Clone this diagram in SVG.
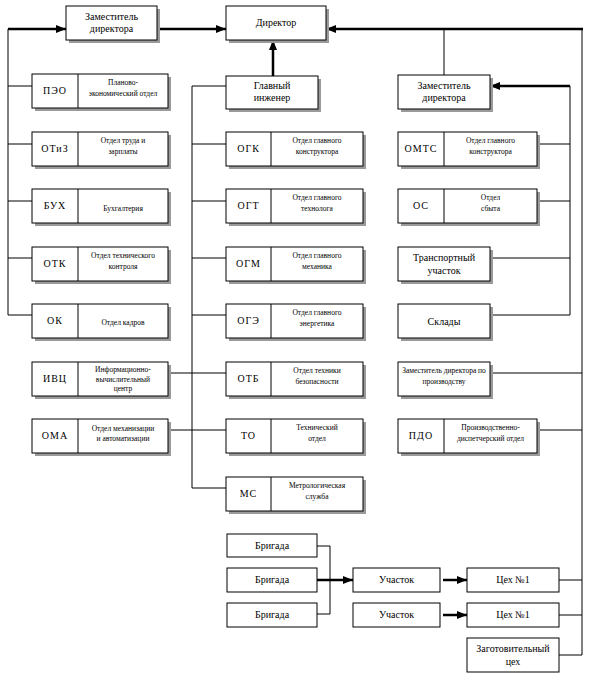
<svg xmlns="http://www.w3.org/2000/svg" width="590" height="678" viewBox="0 0 590 678" font-family="'Liberation Serif', 'Times New Roman', serif">
<style>
.bg{fill:#fff}
.sh{fill:#9a9a9a}
.box{fill:#fff;stroke:#000;stroke-width:1}
.dv{stroke:#000;stroke-width:1}
.ln{stroke:#000;stroke-width:1;fill:none}
.th{stroke:#000;stroke-width:2.5;fill:none}
text{font-family:'Liberation Serif','Times New Roman',serif;fill:#000;text-anchor:middle}
.m{font-size:10px}
.a{font-size:10px;letter-spacing:1px}
.s{font-size:7.5px}
</style>
<defs>
<marker id="ar" markerUnits="userSpaceOnUse" markerWidth="10" markerHeight="10" viewBox="0 0 10 10" refX="10" refY="5" orient="auto">
<path d="M0,1 L10,5 L0,9 Z" fill="#000"/>
</marker>
</defs>
<rect class="bg" width="590" height="678"/>

<g id="connectors">
<line class="th" x1="8" y1="29" x2="66" y2="29" marker-end="url(#ar)"/>
<line class="th" x1="157" y1="29" x2="226" y2="29" marker-end="url(#ar)"/>
<line class="th" x1="583" y1="29" x2="326" y2="29" marker-end="url(#ar)"/>
<line class="th" x1="273" y1="76" x2="273" y2="40" marker-end="url(#ar)"/>
<line class="th" x1="570" y1="86" x2="490" y2="86" marker-end="url(#ar)"/>
<path class="ln" d="M8,29 V315"/>
<path class="ln" d="M8,86 H32 M8,144 H32 M8,201 H32 M8,258 H32 M8,315 H32"/>
<path class="ln" d="M226,86 H192 V488 H226"/>
<path class="ln" d="M192,144 H226 M192,201 H226 M192,258 H226 M192,315 H226 M168,373 H226 M168,430 H226"/>
<path class="ln" d="M444,29 V75"/>
<path class="ln" d="M570,86 V315"/>
<path class="ln" d="M537,144 H570 M537,201 H570 M490,258 H570 M490,315 H570"/>
<path class="ln" d="M582,29 V655"/>
<path class="ln" d="M490,373 H582 M537,430 H582 M559,580 H582 M559,615 H582 M559,655 H582"/>
<path class="ln" d="M317,546 H330 V614 H317"/>
<line class="th" x1="317" y1="580" x2="353" y2="580" marker-end="url(#ar)"/>
<line class="th" x1="443" y1="580" x2="467" y2="580" marker-end="url(#ar)"/>
<line class="th" x1="443" y1="615" x2="467" y2="615" marker-end="url(#ar)"/>
</g>

<g id="zam1">
<rect class="sh" x="69" y="9" width="91" height="34"/>
<rect class="box" x="66" y="6" width="91" height="34"/>
<text class="m" x="111.5" y="20">Заместитель</text>
<text class="m" x="111.5" y="32">директора</text>
</g>
<g id="director">
<rect class="sh" x="229" y="9" width="100" height="34"/>
<rect class="box" x="226" y="6" width="100" height="34"/>
<text class="m" x="276" y="26">Директор</text>
</g>
<g id="glav">
<rect class="sh" x="229" y="79" width="92" height="33"/>
<rect class="box" x="226" y="76" width="92" height="33"/>
<text class="m" x="272" y="89">Главный</text>
<text class="m" x="272" y="101">инженер</text>
</g>
<g id="zam2">
<rect class="sh" x="401" y="78" width="92" height="34"/>
<rect class="box" x="398" y="75" width="92" height="34"/>
<text class="m" x="444" y="89">Заместитель</text>
<text class="m" x="444" y="101">директора</text>
</g>

<g id="peo">
<rect class="sh" x="35" y="77" width="136" height="34"/>
<rect class="box" x="32" y="74" width="136" height="34"/>
<line class="dv" x1="78" y1="74" x2="78" y2="108"/>
<text class="a" x="55" y="94">ПЭО</text>
<text class="s" x="123" y="85">Планово-</text>
<text class="s" x="123" y="96">экономический отдел</text>
</g>
<g id="otiz">
<rect class="sh" x="35" y="135" width="136" height="34"/>
<rect class="box" x="32" y="132" width="136" height="34"/>
<line class="dv" x1="78" y1="132" x2="78" y2="166"/>
<text class="a" x="55" y="152">ОТиЗ</text>
<text class="s" x="123" y="143">Отдел труда и</text>
<text class="s" x="123" y="154">зарплаты</text>
</g>
<g id="buh">
<rect class="sh" x="35" y="192" width="136" height="34"/>
<rect class="box" x="32" y="189" width="136" height="34"/>
<line class="dv" x1="78" y1="189" x2="78" y2="223"/>
<text class="a" x="55" y="209">БУХ</text>
<text class="s" x="123" y="211">Бухгалтерия</text>
</g>
<g id="otk">
<rect class="sh" x="35" y="250" width="136" height="34"/>
<rect class="box" x="32" y="247" width="136" height="34"/>
<line class="dv" x1="78" y1="247" x2="78" y2="281"/>
<text class="a" x="55" y="267">ОТК</text>
<text class="s" x="123" y="258">Отдел технического</text>
<text class="s" x="123" y="269">контроля</text>
</g>
<g id="ok">
<rect class="sh" x="35" y="307" width="136" height="34"/>
<rect class="box" x="32" y="304" width="136" height="34"/>
<line class="dv" x1="78" y1="304" x2="78" y2="338"/>
<text class="a" x="55" y="324">ОК</text>
<text class="s" x="123" y="325">Отдел кадров</text>
</g>
<g id="ivc">
<rect class="sh" x="35" y="365" width="136" height="34"/>
<rect class="box" x="32" y="362" width="136" height="34"/>
<line class="dv" x1="78" y1="362" x2="78" y2="396"/>
<text class="a" x="55" y="382">ИВЦ</text>
<text class="s" x="123" y="372">Информационно-</text>
<text class="s" x="123" y="381.5">вычислительный</text>
<text class="s" x="123" y="391">центр</text>
</g>
<g id="oma">
<rect class="sh" x="35" y="422" width="136" height="34"/>
<rect class="box" x="32" y="419" width="136" height="34"/>
<line class="dv" x1="78" y1="419" x2="78" y2="453"/>
<text class="a" x="55" y="439">ОМА</text>
<text class="s" x="123" y="430.5">Отдел механизации</text>
<text class="s" x="123" y="440.5">и автоматизации</text>
</g>

<g id="ogk">
<rect class="sh" x="229" y="135" width="137" height="34"/>
<rect class="box" x="226" y="132" width="137" height="34"/>
<line class="dv" x1="271" y1="132" x2="271" y2="166"/>
<text class="a" x="248.5" y="152">ОГК</text>
<text class="s" x="317" y="143">Отдел главного</text>
<text class="s" x="317" y="154">конструктора</text>
</g>
<g id="ogt">
<rect class="sh" x="229" y="192" width="137" height="34"/>
<rect class="box" x="226" y="189" width="137" height="34"/>
<line class="dv" x1="271" y1="189" x2="271" y2="223"/>
<text class="a" x="248.5" y="209">ОГТ</text>
<text class="s" x="317" y="200">Отдел главного</text>
<text class="s" x="317" y="211">технолога</text>
</g>
<g id="ogm">
<rect class="sh" x="229" y="250" width="137" height="34"/>
<rect class="box" x="226" y="247" width="137" height="34"/>
<line class="dv" x1="271" y1="247" x2="271" y2="281"/>
<text class="a" x="248.5" y="267">ОГМ</text>
<text class="s" x="317" y="258">Отдел главного</text>
<text class="s" x="317" y="269">механика</text>
</g>
<g id="oge">
<rect class="sh" x="229" y="307" width="137" height="34"/>
<rect class="box" x="226" y="304" width="137" height="34"/>
<line class="dv" x1="271" y1="304" x2="271" y2="338"/>
<text class="a" x="248.5" y="324">ОГЭ</text>
<text class="s" x="317" y="315">Отдел главного</text>
<text class="s" x="317" y="326">энергетика</text>
</g>
<g id="otb">
<rect class="sh" x="229" y="365" width="137" height="34"/>
<rect class="box" x="226" y="362" width="137" height="34"/>
<line class="dv" x1="271" y1="362" x2="271" y2="396"/>
<text class="a" x="248.5" y="382">ОТБ</text>
<text class="s" x="317" y="373">Отдел техники</text>
<text class="s" x="317" y="384">безопасности</text>
</g>
<g id="to">
<rect class="sh" x="229" y="422" width="137" height="34"/>
<rect class="box" x="226" y="419" width="137" height="34"/>
<line class="dv" x1="271" y1="419" x2="271" y2="453"/>
<text class="a" x="248.5" y="439">ТО</text>
<text class="s" x="317" y="430">Технический</text>
<text class="s" x="317" y="441">отдел</text>
</g>
<g id="ms">
<rect class="sh" x="229" y="480" width="137" height="34"/>
<rect class="box" x="226" y="477" width="137" height="34"/>
<line class="dv" x1="271" y1="477" x2="271" y2="511"/>
<text class="a" x="248.5" y="497">МС</text>
<text class="s" x="317" y="488">Метрологическая</text>
<text class="s" x="317" y="499">служба</text>
</g>

<g id="omts">
<rect class="sh" x="401" y="135" width="139" height="34"/>
<rect class="box" x="398" y="132" width="139" height="34"/>
<line class="dv" x1="444" y1="132" x2="444" y2="166"/>
<text class="a" x="421" y="152">ОМТС</text>
<text class="s" x="490.5" y="143">Отдел главного</text>
<text class="s" x="490.5" y="154">конструктора</text>
</g>
<g id="os">
<rect class="sh" x="401" y="192" width="139" height="34"/>
<rect class="box" x="398" y="189" width="139" height="34"/>
<line class="dv" x1="444" y1="189" x2="444" y2="223"/>
<text class="a" x="421" y="209">ОС</text>
<text class="s" x="490.5" y="200">Отдел</text>
<text class="s" x="490.5" y="211">сбыта</text>
</g>
<g id="transport">
<rect class="sh" x="401" y="250" width="92" height="34"/>
<rect class="box" x="398" y="247" width="92" height="34"/>
<text class="m" x="444" y="261">Транспортный</text>
<text class="m" x="444" y="274">участок</text>
</g>
<g id="sklady">
<rect class="sh" x="401" y="307" width="92" height="34"/>
<rect class="box" x="398" y="304" width="92" height="34"/>
<text class="m" x="444" y="325">Склады</text>
</g>
<g id="zampr">
<rect class="sh" x="401" y="365" width="92" height="34"/>
<rect class="box" x="398" y="362" width="92" height="34"/>
<text class="s" x="444" y="373">Заместитель директора по</text>
<text class="s" x="444" y="384">производству</text>
</g>
<g id="pdo">
<rect class="sh" x="401" y="422" width="139" height="34"/>
<rect class="box" x="398" y="419" width="139" height="34"/>
<line class="dv" x1="444" y1="419" x2="444" y2="453"/>
<text class="a" x="421" y="439">ПДО</text>
<text class="s" x="490.5" y="430">Производственно-</text>
<text class="s" x="490.5" y="441">диспетчерский отдел</text>
</g>

<g id="brig1">
<rect class="box" x="227" y="534" width="90" height="23"/>
<text class="m" x="272" y="549">Бригада</text>
</g>
<g id="brig2">
<rect class="box" x="227" y="568" width="90" height="24"/>
<text class="m" x="272" y="583">Бригада</text>
</g>
<g id="brig3">
<rect class="box" x="227" y="603" width="90" height="24"/>
<text class="m" x="272" y="618">Бригада</text>
</g>
<g id="uch1">
<rect class="box" x="353" y="568" width="87" height="24"/>
<text class="m" x="396.5" y="583">Участок</text>
</g>
<g id="uch2">
<rect class="box" x="353" y="603" width="87" height="24"/>
<text class="m" x="396.5" y="618">Участок</text>
</g>
<g id="ceh1">
<rect class="box" x="467" y="568" width="92" height="24"/>
<text class="m" x="513" y="583">Цех №1</text>
</g>
<g id="ceh2">
<rect class="box" x="467" y="603" width="92" height="24"/>
<text class="m" x="513" y="618">Цех №1</text>
</g>
<g id="zagot">
<rect class="box" x="467" y="638" width="92" height="34"/>
<text class="m" x="513" y="652">Заготовительный</text>
<text class="m" x="513" y="665">цех</text>
</g>
</svg>
